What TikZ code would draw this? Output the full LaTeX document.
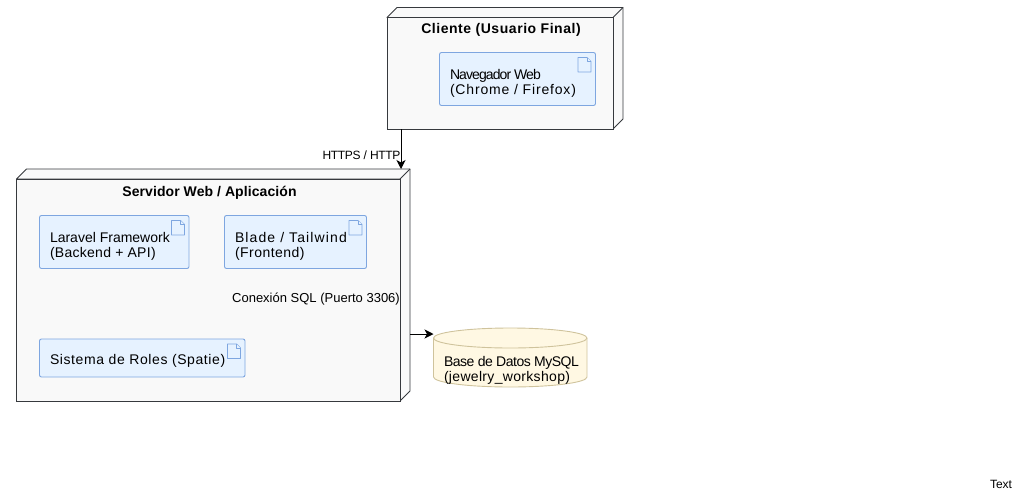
\documentclass[tikz,border=0pt]{standalone}
\usepackage{fontspec}
\setmainfont{Liberation Sans}
\usetikzlibrary{arrows.meta,calc}
\definecolor{boxfill}{HTML}{F9F9F9}
\definecolor{boxline}{HTML}{36393D}
\definecolor{docfill}{HTML}{E6F2FF}
\definecolor{docline}{HTML}{7EA6E0}
\definecolor{dbfill}{HTML}{FFF8E3}
\definecolor{dbline}{HTML}{CFC39C}
\newcommand{\ls}[2]{{\addfontfeature{LetterSpace=#1}#2}}
\tikzset{
  x=1pt,y=-1pt,
  boxface/.style={draw=boxline,fill=boxfill,line width=0.9pt,inner sep=0,outer sep=0,anchor=north west},
  boxside/.style={draw=boxline,fill=boxfill,line width=0.9pt,line join=round},
  docbox/.style={draw=docline,fill=docfill,line width=0.9pt,rounded corners=2pt,inner sep=0,outer sep=0,anchor=north west},
  docicon/.style={draw=docline,fill=docfill,line width=0.8pt,line join=round},
  label/.style={inner sep=0,outer sep=0,font=\fontsize{14}{15}\selectfont,align=left,anchor=west,text=black},
  title/.style={inner sep=0,outer sep=0,font=\fontsize{14}{15}\selectfont\bfseries,anchor=center,text=black},
  small/.style={inner sep=0,outer sep=0,font=\fontsize{12}{14}\selectfont,anchor=center,text=black},
  link/.style={draw=black,line width=0.9pt,-{Stealth[length=9pt,width=9pt,inset=2.5pt]}},
  dbframe/.style={inner sep=0,outer sep=0,anchor=north west},
}
\newcommand{\nodebox}[6]{% name, x, y, w, h, depth
  \draw[boxside] (#2,#3) -- ++(#6,-#6) -- ++(#4,0) -- ++(0,#5) -- ++(-#6,#6) -- ++(0,-#5) -- ++(-#4,0) -- cycle;
  \draw[boxside,fill=none] (#2+#4,#3) -- ++(#6,-#6);
  \node[boxface,minimum width=#4 pt,minimum height=#5 pt] (#1) at (#2,#3) {};
}
\newcommand{\docbox}[5]{% name, x, y, w, h
  \node[docbox,minimum width=#4 pt,minimum height=#5 pt] (#1) at (#2,#3) {};
  \draw[docicon] (#2+#4-17.5,#3+5) -- ++(9,0) -- ++(4,4) -- ++(0,10.5) -- ++(-13,0) -- cycle;
  \draw[docicon] (#2+#4-8.5,#3+5) -- ++(0,4) -- ++(4,0);
}
\begin{document}
\begin{tikzpicture}
\useasboundingbox (0,0) rectangle (1025,498);
\nodebox{client}{387}{17.5}{226}{111.5}{10}
\nodebox{server}{16.5}{179}{383.5}{222}{10}
\docbox{nav}{439.5}{52.5}{156}{53}
\docbox{lar}{39.5}{215.5}{149.5}{53}
\docbox{bla}{224.5}{215.5}{142}{53}
\docbox{rol}{39.5}{339}{205.5}{38}
\node[title] (clientT) at (501,29.5) {\ls{3.9}{Cliente (Usuario Final)}};
\node[title] (serverT) at (209.5,192.5) {\ls{0.6}{Servidor Web / Aplicación}};
\node[label] (navT) at (450,83) {\ls{-6.5}{Navegador Web}\\\ls{5.9}{(Chrome / Firefox)}};
\node[label] (larT) at (50,246) {Laravel Framework\\\ls{2}{(Backend + API)}};
\node[label] (blaT) at (235,246) {\ls{8}{Blade / Tailwind}\\\ls{3.4}{(Frontend)}};
\node[label] (rolT) at (50,361) {\ls{4.3}{Sistema de Roles (Spatie)}};
% database
\node[dbframe,minimum width=153.5pt,minimum height=59pt] (db) at (433.5,328) {};
\draw[draw=dbline,fill=dbfill,line width=0.9pt] (433.5,338) arc[x radius=76.75,y radius=-10,start angle=180,end angle=0] -- (587,377) arc[x radius=76.75,y radius=-10,start angle=0,end angle=-180] -- cycle;
\draw[draw=dbline,line width=0.9pt] (433.5,338) arc[x radius=76.75,y radius=-10,start angle=180,end angle=360];
\node[label] (dbT) at (444,370) {\ls{-3.6}{Base de Datos MySQL}\\\ls{2.3}{(jewelry\_workshop)}};
% connectors
\draw[link] ([xshift=14pt]client.south west) -- ([xshift=1pt,yshift=10pt]server.north east);
\draw[link] ([xshift=10pt,yshift=67pt]server.south east) -- ([yshift=23.5pt]db.west);
\node[small] (https) at (361.5,155) {\ls{-2.5}{HTTPS / HTTP}};
\node[small,font=\fontsize{13}{15}\selectfont] (sql) at (316,299.5) {Conexión SQL (Puerto 3306)};
\node[small] (txt) at (1001,484) {Text};
\end{tikzpicture}
\end{document}
